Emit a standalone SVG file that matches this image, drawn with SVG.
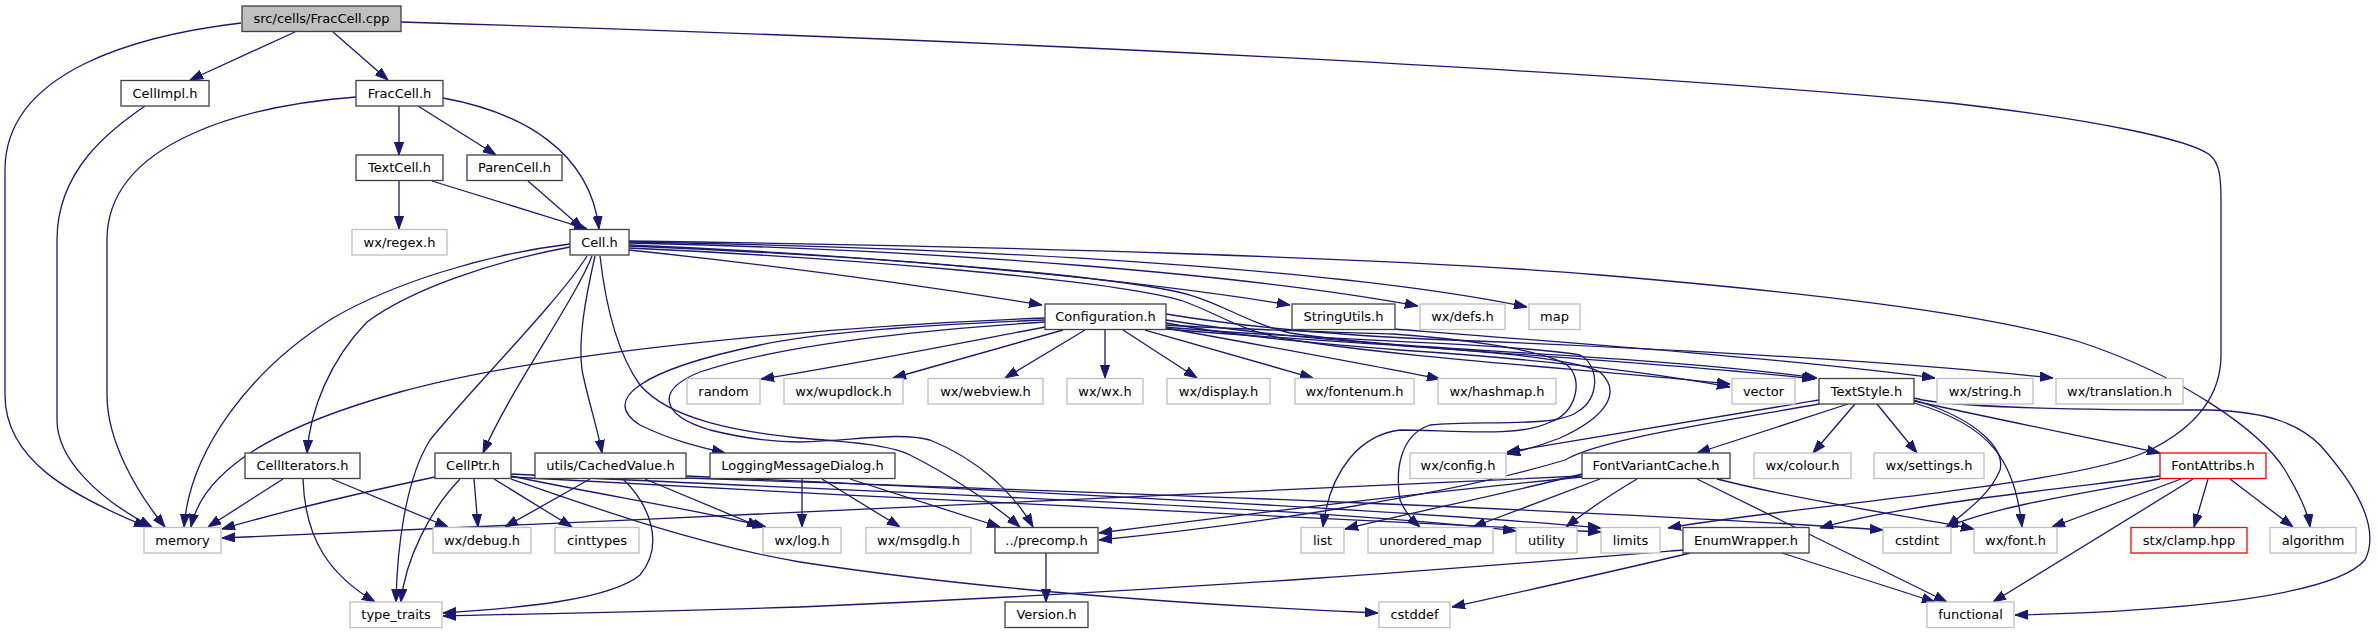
<svg xmlns="http://www.w3.org/2000/svg" width="2378" height="635" viewBox="0 0 2378 635">
<style>
.n rect{fill:#ffffff;stroke:#404040;stroke-width:1.3}
.n.g rect{stroke:#bfbfbf}
.n.r rect{stroke:#ff0000}
.n.root rect{fill:#bfbfbf}
.n text{font-family:"DejaVu Sans","Liberation Sans",sans-serif;font-size:13px;text-anchor:middle;fill:#000000}
#edges path{fill:none;stroke:#191970;stroke-width:1.3;marker-end:url(#ah)}
</style>
<defs>
<marker id="ah" viewBox="0 0 13 10" refX="13" refY="5" markerWidth="13" markerHeight="10" markerUnits="userSpaceOnUse" orient="auto">
<path d="M0,0.4L13,5L0,9.6z" fill="#191970" stroke="#191970" stroke-width="1"/>
</marker>
</defs>
<rect x="0" y="0" width="2378" height="635" fill="#ffffff"/>
<g id="edges">
<path d="M241,23 C140,35 5,70 5,170 L5,395 C5,460 70,495 147,527"/>
<path d="M295,32 L190,80"/>
<path d="M333,32 L388,80"/>
<path d="M401,22 C1000,40 1600,70 1950,103 C2100,120 2190,140 2210,155 C2219,163 2221,175 2221,200 L2221,355 C2221,400 2190,430 2150,450 C2080,485 1800,505 1668,528"/>
<path d="M145,106 C110,130 57,170 57,240 L57,420 C57,460 100,500 152,527"/>
<path d="M356,97 C250,105 107,140 107,240 L107,395 C107,440 135,490 165,527"/>
<path d="M399,106 L399,155"/>
<path d="M418,106 L496,155"/>
<path d="M443,98 C520,112 590,150 599,229"/>
<path d="M399,181 L399,229"/>
<path d="M432,181 L587,229"/>
<path d="M528,181 L583,229"/>
<path d="M570,244 C480,255 390,285 333,318 C250,370 190,450 184,527"/>
<path d="M570,247 C490,262 410,290 367,322 C330,360 310,410 307,453"/>
<path d="M587,256 C560,300 470,390 430,440 C405,480 397,550 396,602"/>
<path d="M592,256 C575,300 510,390 483,453"/>
<path d="M595,256 C585,300 578,340 582,370 C588,400 598,430 602,453"/>
<path d="M600,256 C605,300 615,350 640,385 C670,420 740,432 800,438 C850,442 890,445 910,455 C950,475 995,505 1020,527"/>
<path d="M629,250 C800,268 950,290 1042,305"/>
<path d="M629,245 C900,256 1150,282 1290,305"/>
<path d="M629,243 C950,250 1250,275 1418,306"/>
<path d="M629,242 C1000,248 1350,270 1527,307"/>
<path d="M629,241 C1000,246 1400,258 1600,275 C1800,292 1980,312 2080,342 C2180,375 2260,430 2285,470 C2300,495 2308,512 2310,527"/>
<path d="M629,246 C850,255 1120,275 1190,295 C1225,305 1245,322 1290,333 C1400,350 1650,360 1815,379"/>
<path d="M629,248 C850,258 1110,280 1180,300 C1215,312 1235,328 1280,338 C1400,358 1600,370 1730,384"/>
<path d="M1045,318 C850,325 550,350 400,392 C300,420 205,460 191,527"/>
<path d="M1045,320 C920,325 820,332 760,345 C640,370 600,400 640,425 C670,440 700,447 725,453"/>
<path d="M1045,322 C920,330 780,345 700,372 C655,390 660,415 710,430 C750,440 780,442 800,442 C860,440 900,432 930,440 C980,460 1015,495 1033,527"/>
<path d="M1045,327 C950,345 850,365 761,379"/>
<path d="M1063,330 L893,378"/>
<path d="M1085,330 L1005,378"/>
<path d="M1105,330 L1105,378"/>
<path d="M1123,330 L1197,378"/>
<path d="M1145,330 L1313,378"/>
<path d="M1166,328 C1260,345 1370,365 1440,379"/>
<path d="M1166,320 C1230,330 1300,338 1400,345 C1550,355 1700,362 1817,378"/>
<path d="M1166,323 C1230,335 1300,342 1400,350 C1550,360 1650,372 1730,387"/>
<path d="M1166,314 C1250,328 1350,336 1450,340 C1700,350 1900,362 2053,378"/>
<path d="M1166,325 C1250,330 1330,332 1393,334 C1450,338 1540,348 1567,365 C1585,380 1575,415 1550,422 C1520,438 1450,430 1400,430 C1360,435 1330,470 1323,527"/>
<path d="M1166,327 C1300,340 1500,342 1580,355 C1600,365 1600,400 1577,412 C1555,428 1480,420 1430,425 C1400,435 1395,470 1400,500 C1405,512 1412,520 1420,527"/>
<path d="M1166,329 C1350,345 1560,350 1600,372 C1625,395 1600,420 1560,438 C1540,446 1525,450 1507,454"/>
<path d="M1393,329 C1600,345 1800,360 1935,378"/>
<path d="M1819,400 C1700,420 1580,440 1507,452"/>
<path d="M1819,404 C1700,425 1600,440 1565,460 C1450,495 1250,525 1099,540"/>
<path d="M1848,404 L1697,453"/>
<path d="M1855,404 L1813,453"/>
<path d="M1877,404 L1917,453"/>
<path d="M1914,401 C2000,420 2100,440 2160,453"/>
<path d="M1914,400 C1980,420 2005,450 2000,470 C1990,495 1965,512 1947,527"/>
<path d="M1914,403 C1990,425 2015,460 2022,527"/>
<path d="M1914,398 C1950,408 2100,410 2211,410 C2270,412 2300,425 2320,445 C2360,490 2380,530 2365,560 C2330,600 2150,612 2015,615"/>
<path d="M283,479 L208,527"/>
<path d="M303,479 C305,540 330,575 375,602"/>
<path d="M332,479 L448,527"/>
<path d="M435,477 C350,495 270,515 222,529"/>
<path d="M460,479 C430,510 405,560 401,602"/>
<path d="M474,479 L478,527"/>
<path d="M494,479 L572,527"/>
<path d="M511,476 C600,495 700,510 766,527"/>
<path d="M511,479 C600,510 700,545 800,562 C950,585 1150,603 1378,613"/>
<path d="M511,474 C800,490 1300,505 1516,531"/>
<path d="M511,477 C900,500 1400,520 1601,532"/>
<path d="M590,479 L505,527"/>
<path d="M645,479 L760,527"/>
<path d="M623,479 C650,505 665,545 640,575 C610,600 520,608 443,613"/>
<path d="M686,476 C1000,490 1400,510 1601,528"/>
<path d="M686,478 C1100,492 1600,510 1883,530"/>
<path d="M802,479 L802,527"/>
<path d="M822,479 L900,527"/>
<path d="M850,479 L1000,527"/>
<path d="M1582,476 C1300,490 700,517 222,538"/>
<path d="M1582,477 C1400,495 1200,520 1099,533"/>
<path d="M1582,474 C1500,495 1400,515 1345,529"/>
<path d="M1600,479 L1473,527"/>
<path d="M1637,479 C1610,495 1585,512 1566,527"/>
<path d="M1717,479 C1800,500 1900,515 1974,529"/>
<path d="M1697,479 L1947,602"/>
<path d="M2160,476 C2050,490 1900,505 1820,528"/>
<path d="M2160,479 C2070,495 1990,508 1945,528"/>
<path d="M2181,479 L2052,527"/>
<path d="M2193,479 L1993,602"/>
<path d="M2208,479 L2194,527"/>
<path d="M2230,479 L2293,527"/>
<path d="M1683,550 C1500,565 1200,590 800,607 C650,612 520,614 443,616"/>
<path d="M1690,553 C1620,570 1520,592 1452,607"/>
<path d="M1782,553 L1935,602"/>
<path d="M1046,553 L1046,602"/>
</g>
<g id="n_fraccpp" class="n root"><rect x="242" y="6" width="159" height="25.5"/><text x="321.5" y="23">src/cells/FracCell.cpp</text></g>
<g id="n_cellimpl" class="n"><rect x="121" y="80.5" width="88" height="25.5"/><text x="165" y="97.5">CellImpl.h</text></g>
<g id="n_fracch" class="n"><rect x="356" y="80.5" width="87" height="25.5"/><text x="399.5" y="97.5">FracCell.h</text></g>
<g id="n_textcell" class="n"><rect x="356" y="155" width="87" height="25.5"/><text x="399.5" y="172">TextCell.h</text></g>
<g id="n_parencell" class="n"><rect x="467" y="155" width="95" height="25.5"/><text x="514.5" y="172">ParenCell.h</text></g>
<g id="n_regex" class="n g"><rect x="352" y="229.5" width="95" height="25.5"/><text x="399.5" y="246.5">wx/regex.h</text></g>
<g id="n_cell" class="n"><rect x="570" y="229.5" width="59" height="25.5"/><text x="599.5" y="246.5">Cell.h</text></g>
<g id="n_config" class="n"><rect x="1045" y="304" width="121" height="25.5"/><text x="1105.5" y="321">Configuration.h</text></g>
<g id="n_stringutils" class="n"><rect x="1292" y="304" width="103" height="25.5"/><text x="1343.5" y="321">StringUtils.h</text></g>
<g id="n_defs" class="n g"><rect x="1420" y="304" width="85" height="25.5"/><text x="1462.5" y="321">wx/defs.h</text></g>
<g id="n_map" class="n g"><rect x="1529" y="304" width="51" height="25.5"/><text x="1554.5" y="321">map</text></g>
<g id="n_random" class="n g"><rect x="687" y="378.5" width="73" height="25.5"/><text x="723.5" y="395.5">random</text></g>
<g id="n_wupdlock" class="n g"><rect x="784" y="378.5" width="119" height="25.5"/><text x="843.5" y="395.5">wx/wupdlock.h</text></g>
<g id="n_webview" class="n g"><rect x="928" y="378.5" width="115" height="25.5"/><text x="985.5" y="395.5">wx/webview.h</text></g>
<g id="n_wx" class="n g"><rect x="1067" y="378.5" width="76" height="25.5"/><text x="1105" y="395.5">wx/wx.h</text></g>
<g id="n_display" class="n g"><rect x="1167" y="378.5" width="103" height="25.5"/><text x="1218.5" y="395.5">wx/display.h</text></g>
<g id="n_fontenum" class="n g"><rect x="1295" y="378.5" width="119" height="25.5"/><text x="1354.5" y="395.5">wx/fontenum.h</text></g>
<g id="n_hashmap" class="n g"><rect x="1438" y="378.5" width="118" height="25.5"/><text x="1497" y="395.5">wx/hashmap.h</text></g>
<g id="n_vector" class="n g"><rect x="1732" y="378.5" width="63" height="25.5"/><text x="1763.5" y="395.5">vector</text></g>
<g id="n_textstyle" class="n"><rect x="1819" y="378.5" width="95" height="25.5"/><text x="1866.5" y="395.5">TextStyle.h</text></g>
<g id="n_string" class="n g"><rect x="1937" y="378.5" width="96" height="25.5"/><text x="1985" y="395.5">wx/string.h</text></g>
<g id="n_translation" class="n g"><rect x="2056" y="378.5" width="127" height="25.5"/><text x="2119.5" y="395.5">wx/translation.h</text></g>
<g id="n_celliter" class="n"><rect x="245" y="453" width="115" height="25.5"/><text x="302.5" y="470">CellIterators.h</text></g>
<g id="n_cellptr" class="n"><rect x="435" y="453" width="76" height="25.5"/><text x="473" y="470">CellPtr.h</text></g>
<g id="n_cached" class="n"><rect x="535" y="453" width="151" height="25.5"/><text x="610.5" y="470">utils/CachedValue.h</text></g>
<g id="n_logging" class="n"><rect x="710" y="453" width="185" height="25.5"/><text x="802.5" y="470">LoggingMessageDialog.h</text></g>
<g id="n_wxconfig" class="n g"><rect x="1410" y="453" width="96" height="25.5"/><text x="1458" y="470">wx/config.h</text></g>
<g id="n_fvc" class="n"><rect x="1582" y="453" width="148" height="25.5"/><text x="1656" y="470">FontVariantCache.h</text></g>
<g id="n_colour" class="n g"><rect x="1754" y="453" width="97" height="25.5"/><text x="1802.5" y="470">wx/colour.h</text></g>
<g id="n_settings" class="n g"><rect x="1874" y="453" width="110" height="25.5"/><text x="1929" y="470">wx/settings.h</text></g>
<g id="n_fontattribs" class="n r"><rect x="2160" y="453" width="106" height="25.5"/><text x="2213" y="470">FontAttribs.h</text></g>
<g id="n_memory" class="n g"><rect x="144" y="527.5" width="77" height="25.5"/><text x="182.5" y="544.5">memory</text></g>
<g id="n_debug" class="n g"><rect x="433" y="527.5" width="98" height="25.5"/><text x="482" y="544.5">wx/debug.h</text></g>
<g id="n_cinttypes" class="n g"><rect x="555" y="527.5" width="84" height="25.5"/><text x="597" y="544.5">cinttypes</text></g>
<g id="n_log" class="n g"><rect x="763" y="527.5" width="78" height="25.5"/><text x="802" y="544.5">wx/log.h</text></g>
<g id="n_msgdlg" class="n g"><rect x="866" y="527.5" width="105" height="25.5"/><text x="918.5" y="544.5">wx/msgdlg.h</text></g>
<g id="n_precomp" class="n"><rect x="995" y="527.5" width="103" height="25.5"/><text x="1046.5" y="544.5">../precomp.h</text></g>
<g id="n_list" class="n g"><rect x="1301" y="527.5" width="43" height="25.5"/><text x="1322.5" y="544.5">list</text></g>
<g id="n_umap" class="n g"><rect x="1368" y="527.5" width="125" height="25.5"/><text x="1430.5" y="544.5">unordered_map</text></g>
<g id="n_utility" class="n g"><rect x="1516" y="527.5" width="61" height="25.5"/><text x="1546.5" y="544.5">utility</text></g>
<g id="n_limits" class="n g"><rect x="1601" y="527.5" width="59" height="25.5"/><text x="1630.5" y="544.5">limits</text></g>
<g id="n_enum" class="n"><rect x="1683" y="527.5" width="126" height="25.5"/><text x="1746" y="544.5">EnumWrapper.h</text></g>
<g id="n_cstdint" class="n g"><rect x="1883" y="527.5" width="68" height="25.5"/><text x="1917" y="544.5">cstdint</text></g>
<g id="n_font" class="n g"><rect x="1974" y="527.5" width="83" height="25.5"/><text x="2015.5" y="544.5">wx/font.h</text></g>
<g id="n_clamp" class="n r"><rect x="2131" y="527.5" width="116" height="25.5"/><text x="2189" y="544.5">stx/clamp.hpp</text></g>
<g id="n_algorithm" class="n g"><rect x="2270" y="527.5" width="86" height="25.5"/><text x="2313" y="544.5">algorithm</text></g>
<g id="n_typetraits" class="n g"><rect x="350" y="602" width="92" height="25.5"/><text x="396" y="619">type_traits</text></g>
<g id="n_version" class="n"><rect x="1005" y="602" width="83" height="25.5"/><text x="1046.5" y="619">Version.h</text></g>
<g id="n_cstddef" class="n g"><rect x="1379" y="602" width="71" height="25.5"/><text x="1414.5" y="619">cstddef</text></g>
<g id="n_functional" class="n g"><rect x="1927" y="602" width="87" height="25.5"/><text x="1970.5" y="619">functional</text></g>
</svg>
